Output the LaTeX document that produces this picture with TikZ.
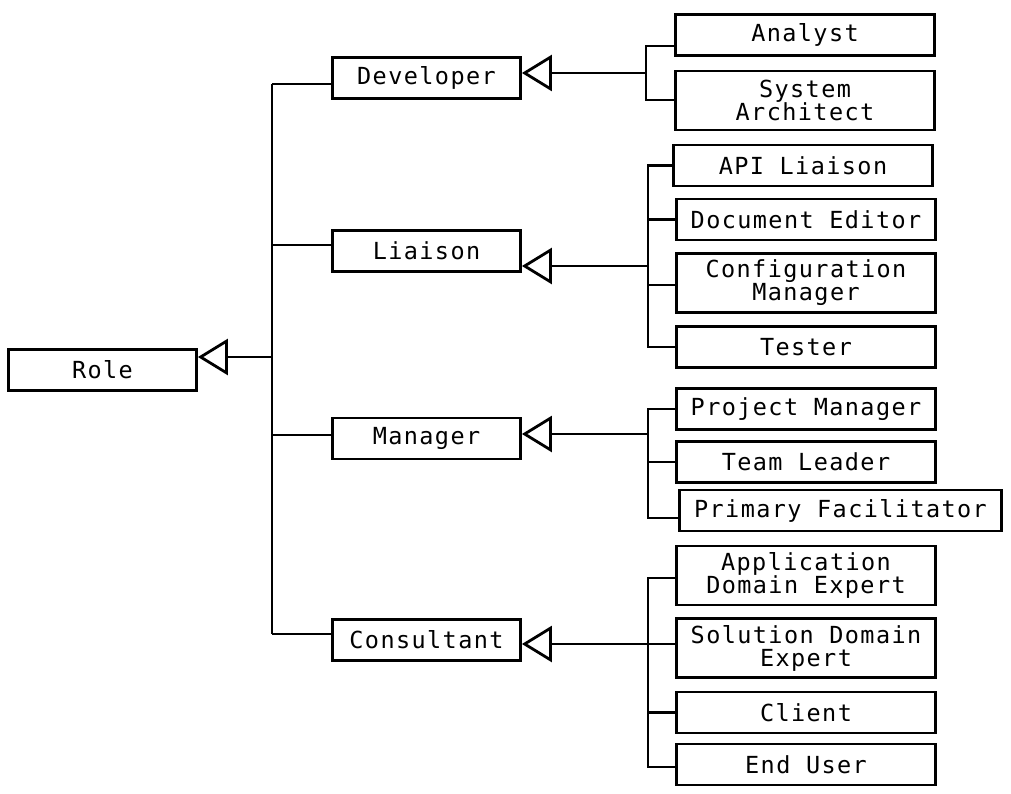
\documentclass[tikz,border=0pt]{standalone}
\usepackage{fontspec}
\newfontfamily\boxfont{DejaVu Sans Mono}[LetterSpace=6]
\usetikzlibrary{arrows.meta,positioning}

\begin{document}
\begin{tikzpicture}[x=1pt,y=-1pt,line width=2.8pt,
		>={Triangle[open,length=30pt,width=36pt]},
		cls/.style={draw,inner sep=0pt,align=center,font=\boxfont\fontsize{23.5}{23}\selectfont,minimum height=41pt},
		base/.style={cls,minimum width=188pt},
		leaf/.style={cls,minimum width=259pt},
		two/.style={minimum height=59pt}]
		\useasboundingbox (0,0) rectangle (1011,794);
		% root and first level
		\node[base] (role) at (102.5,370) {Role};
		\node[base] (dev) at (426.5,78) {Developer};
		\node[base] (lia) at (426.5,251) {Liaison};
		\node[base] (man) at (426.5,438.5) {Manager};
		\node[base] (con) at (426.5,640) {Consultant};
		% leaves
		\node[leaf] (ana) at (805,35) {Analyst};
		\node[leaf,two] (sys) at (805,100.5) {System\\Architect};
		\node[leaf] (api) at (803,165.5) {API Liaison};
		\node[leaf] (doc) at (806,219.5) {Document Editor};
		\node[leaf,two] (cfg) at (806,283) {Configuration\\Manager};
		\node[leaf] (tst) at (806,347) {Tester};
		\node[leaf] (pm) at (806,409) {Project Manager};
		\node[leaf] (tl) at (806,462) {Team Leader};
		\node[cls,minimum width=322pt] (pf) at (840.5,510.5) {Primary Facilitator};
		\node[leaf,two] (app) at (806,575.5) {Application\\Domain Expert};
		\node[leaf,two] (sol) at (806,648) {Solution Domain\\Expert};
		\node[leaf] (cli) at (806,712.5) {Client};
		\node[leaf] (eu) at (806,764.5) {End User};
		% junctions
		\coordinate (rj) at (272,357);
		\coordinate (dj) at (646,73);
		\coordinate (lj) at (648,266);
		\coordinate (mj) at (648,434);
		\coordinate (cj) at (648,644);
		% trunk
		\draw (272,84) -- (272,634);
		\draw[->] (rj) -- (rj -| role.east);
		\draw (272,84) -- (272,84 -| dev.west);
		\draw (272,245) -- (272,245 -| lia.west);
		\draw (272,435) -- (272,435 -| man.west);
		\draw (272,634) -- (272,634 -| con.west);
		% Developer
		\draw[->] (dj) -- (dj -| dev.east);
		\draw (ana.west |- 0,46) -| (dj) |- (sys.west |- 0,100);
		% Liaison
		\draw[->] (lj) -- (lj -| lia.east);
		\draw (api.west) -| (648,347) -- (tst.west);
		\draw (648,219.5) -- (doc.west);
		\draw (648,285) -- (cfg.west |- 0,285);
		% Manager
		\draw[->] (mj) -- (mj -| man.east);
		\draw (pm.west) -| (648,518) -- (pf.west |- 0,518);
		\draw (648,462) -- (tl.west);
		% Consultant
		\draw[->] (cj) -- (cj -| con.east);
		\draw (app.west |- 0,578) -| (648,767) -- (eu.west |- 0,767);
		\draw (cj) -- (sol.west |- cj);
		\draw (648,712.5) -- (cli.west);
\end{tikzpicture}
\end{document}
